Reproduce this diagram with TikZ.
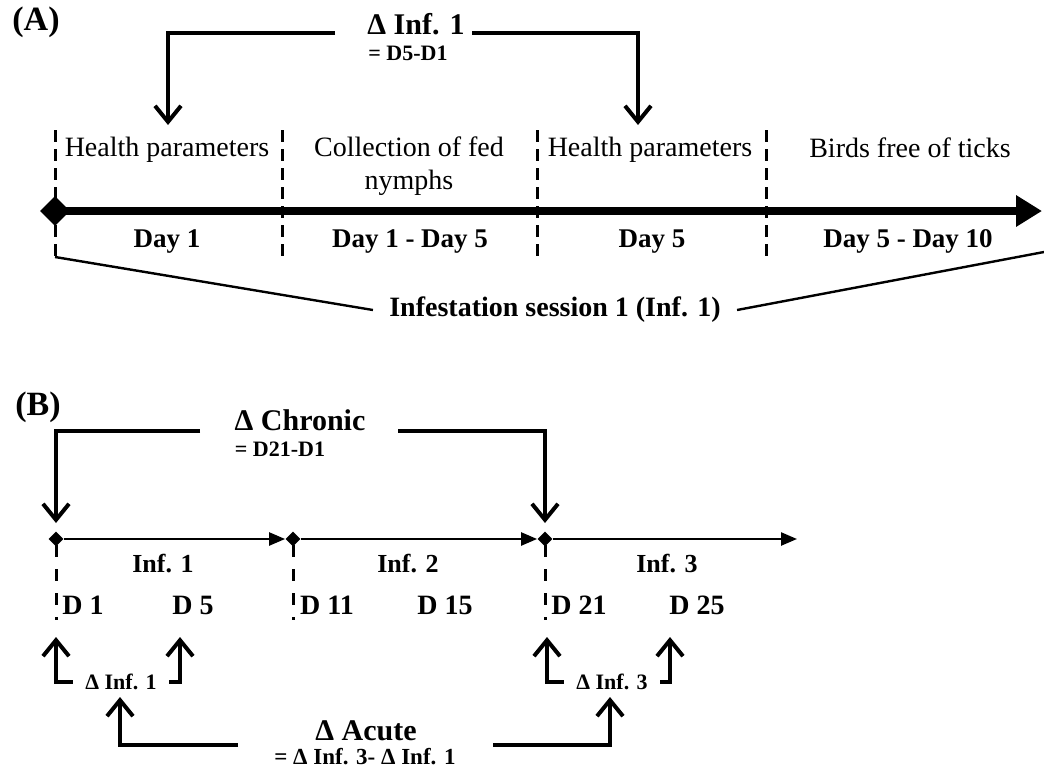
\documentclass[tikz,border=0pt]{standalone}
\usepackage{fontspec}
\setmainfont{Liberation Serif}
\usetikzlibrary{arrows.meta,positioning,shapes.geometric}

\begin{document}
\begin{tikzpicture}[x=0.5pt,y=-0.5pt,
  phase/.style={font=\fontsize{14}{16.5}\selectfont,align=center,inner sep=1pt},
  daylbl/.style={font=\bfseries\fontsize{13.5}{16}\selectfont,inner sep=1pt,text height=1.5ex,text depth=.3ex},
  infl/.style={font=\bfseries\fontsize{13}{15}\selectfont,inner sep=1pt},
  dlbl/.style={font=\bfseries\fontsize{14}{16}\selectfont,inner sep=1pt},
  delta/.style={font=\bfseries\fontsize{15}{18}\selectfont,inner sep=1pt},
  formula/.style={font=\bfseries\fontsize{11}{13}\selectfont,inner sep=1pt},
  smalldelta/.style={font=\bfseries\fontsize{11}{13}\selectfont,inner sep=6pt},
  panel/.style={font=\bfseries\fontsize{17}{20}\selectfont,inner sep=0pt},
  bracket/.style={line width=2pt,-{Straight Barb[length=8pt,width=13pt]}},
  sepA/.style={line width=1.5pt,dash pattern=on 6pt off 3.5pt},
  sepB/.style={line width=1.5pt,dash pattern=on 6pt off 6pt},
  bigaxis/.style={line width=4pt,-{Triangle[length=13pt,width=15pt]}},
  axis/.style={line width=1.2pt,-{Triangle[length=8pt,width=6.5pt]}},
  bigdia/.style={diamond,fill,inner sep=0pt,minimum size=15pt},
  dia/.style={diamond,fill,inner sep=0pt,minimum size=7.5pt},
  lead/.style={line width=1.2pt}]
\useasboundingbox (0,0) rectangle (1044,771);

% Panel A
\node[panel] (pA) at (36,22) {(A)};
\node[delta] (dInfA) at (416,24) {Δ Inf. 1};
\node[formula,anchor=west] (fA) at (366,53) {= D5-D1};

\node[phase] (hp1) at (167,150) {Health parameters};
\node[phase] (coll) at (409,166) {Collection of fed\\nymphs};
\node[phase] (hp2) at (650,150) {Health parameters};
\node[phase] (free) at (910,148) {Birds free of ticks};

\node[daylbl] (day1) at (167,242) {Day 1};
\node[daylbl] (day15) at (410,242) {Day 1 - Day 5};
\node[daylbl] (day5) at (652,242) {Day 5};
\node[daylbl] (day510) at (908,242) {Day 5 - Day 10};

\node[dlbl,inner sep=8pt] (sess) at (555,310) {Infestation session 1 (Inf. 1)};

% Separators
\foreach \x/\n in {55/s0,282/s1,537/s2,766/s3}{
  \coordinate (\n t) at (\x,130);
  \coordinate (\n b) at (\x,257);
  \draw[sepA] (\n t) -- (\n b);
}

% Time axis
\node[bigdia] (d0) at (55,211) {};
\coordinate (aEnd) at (1042,211);
\draw[bigaxis] (d0.center) -- (aEnd);

% Delta Inf. 1
\coordinate (lA) at (335,33);
\coordinate (rA) at (472,33);
\coordinate (tA1) at (168,125);
\coordinate (tA2) at (638,125);
\draw[bracket] (lA) -| (tA1);
\draw[bracket] (rA) -| (tA2);

% Session leads
\coordinate (eA) at (1044,252);
\draw[lead] (s0b) -- (sess.west);
\draw[lead] (sess.east) -- (eA);

% Panel B
\node[panel] (pB) at (38,407) {(B)};
\node[delta] (dChr) at (300,420) {Δ Chronic};
\node[formula] (fB) at (280,449) {= D21-D1};

\node[dia] (b1) at (56,539) {};
\node[dia] (b2) at (293,539) {};
\node[dia] (b3) at (545,539) {};
\coordinate (bEnd) at (797,539);
\draw[axis] (b1) -- (b2);
\draw[axis] (b2) -- (b3);
\draw[axis] (b3) -- (bEnd);

\foreach \x/\n in {56/v1,293/v2,545/v3}{
  \coordinate (\n t) at (\x,545);
  \coordinate (\n b) at (\x,620);
  \draw[sepB] (\n t) -- (\n b);
}

\node[infl] (i1) at (163,564) {Inf. 1};
\node[infl] (i2) at (408,564) {Inf. 2};
\node[infl] (i3) at (667,564) {Inf. 3};

\node[dlbl] (D1) at (83,605) {D 1};
\node[dlbl] (D5) at (193,605) {D 5};
\node[dlbl] (D11) at (327,605) {D 11};
\node[dlbl] (D15) at (445,605) {D 15};
\node[dlbl] (D21) at (579,605) {D 21};
\node[dlbl] (D25) at (697,605) {D 25};

% Delta Chronic
\coordinate (lB) at (200,431);
\coordinate (rB) at (398,431);
\coordinate (tB1) at (56,523);
\coordinate (tB2) at (545,523);
\draw[bracket] (lB) -| (tB1);
\draw[bracket] (rB) -| (tB2);

% Delta Inf. 1 / Inf. 3
\node[smalldelta] (dI1) at (121,682) {Δ Inf. 1};
\node[smalldelta] (dI3) at (612,682) {Δ Inf. 3};
\coordinate (u1) at (56,637);
\coordinate (u2) at (180,637);
\coordinate (u3) at (547,637);
\coordinate (u4) at (670,637);
\draw[bracket] (dI1.west) -| (u1);
\draw[bracket] (dI1.east) -| (u2);
\draw[bracket] (dI3.west) -| (u3);
\draw[bracket] (dI3.east) -| (u4);

% Delta Acute
\node[delta] (dAc) at (366,731) {Δ Acute};
\node[formula,font=\bfseries\fontsize{11.5}{13}\selectfont] (fC) at (365,757) {= Δ Inf. 3- Δ Inf. 1};
\coordinate (lC) at (238,745);
\coordinate (rC) at (493,745);
\coordinate (tC1) at (120,697);
\coordinate (tC2) at (610,697);
\draw[bracket] (lC) -| (tC1);
\draw[bracket] (rC) -| (tC2);
\end{tikzpicture}
\end{document}
